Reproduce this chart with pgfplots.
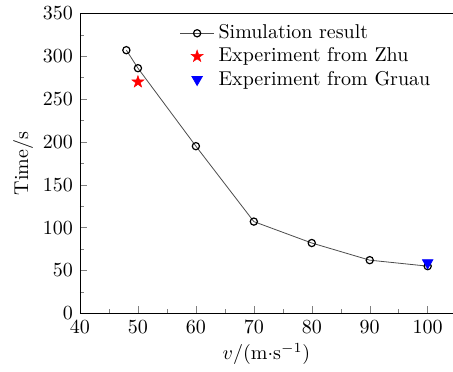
\documentclass[border=0pt]{standalone}
\usepackage{pgfplots}
\pgfplotsset{compat=1.18}
\pgfdeclareplotmark{fstar}{%
  \pgfpathmoveto{\pgfpointpolar{90}{\pgfplotmarksize}}%
  \pgfpathlineto{\pgfpointpolar{126}{0.4\pgfplotmarksize}}%
  \pgfpathlineto{\pgfpointpolar{162}{\pgfplotmarksize}}%
  \pgfpathlineto{\pgfpointpolar{198}{0.4\pgfplotmarksize}}%
  \pgfpathlineto{\pgfpointpolar{234}{\pgfplotmarksize}}%
  \pgfpathlineto{\pgfpointpolar{270}{0.4\pgfplotmarksize}}%
  \pgfpathlineto{\pgfpointpolar{306}{\pgfplotmarksize}}%
  \pgfpathlineto{\pgfpointpolar{342}{0.4\pgfplotmarksize}}%
  \pgfpathlineto{\pgfpointpolar{18}{\pgfplotmarksize}}%
  \pgfpathlineto{\pgfpointpolar{54}{0.4\pgfplotmarksize}}%
  \pgfpathclose
  \pgfusepathqfillstroke
}
\begin{document}
\begin{tikzpicture}
\begin{axis}[
  name=ax,
  scale only axis,
  width=186.5pt, height=150pt,
  xmin=40, xmax=104.37,
  ymin=0, ymax=350,
  xtick={40,50,...,100},
  ytick={0,50,...,350},
  minor x tick num=1,
  minor y tick num=1,
  xtick pos=lower, ytick pos=left,
  tick align=inside,
  major tick length=3.5pt,
  minor tick length=2pt,
  xlabel={$v/(\mathrm{m{\cdot}s^{-1}})$},
  ylabel={Time/s},
  xlabel style={yshift=2pt},
  ylabel style={yshift=-2pt},
  legend style={draw=none, fill=none, at={(0.25,0.99)}, anchor=north west, font=\normalsize, row sep=-1pt},
  legend cell align=left,
]
\addplot[color=black!70, mark=o, mark size=1.8pt, mark options={black, solid, fill=white, line width=0.6pt}] coordinates {
(48,307) (50,286) (60,195) (70,107) (80,82) (90,62) (100,55)
};
\addlegendentry{Simulation result}
\addplot[only marks, mark=fstar, color=red, mark size=3.2pt, mark options={fill=red, line width=0.2pt}] coordinates {(50,270)};
\addlegendentry{Experiment from Zhu}
\addplot[only marks, mark=triangle*, color=blue, mark size=3pt, mark options={rotate=180, fill=blue}] coordinates {(100,59)};
\addlegendentry{Experiment from Gruau}
\end{axis}
\pgfresetboundingbox
\path[use as bounding box] ([xshift=-40pt,yshift=-29.35pt]ax.south west) rectangle ([yshift=156.65pt]ax.south east);
\end{tikzpicture}
\end{document}
